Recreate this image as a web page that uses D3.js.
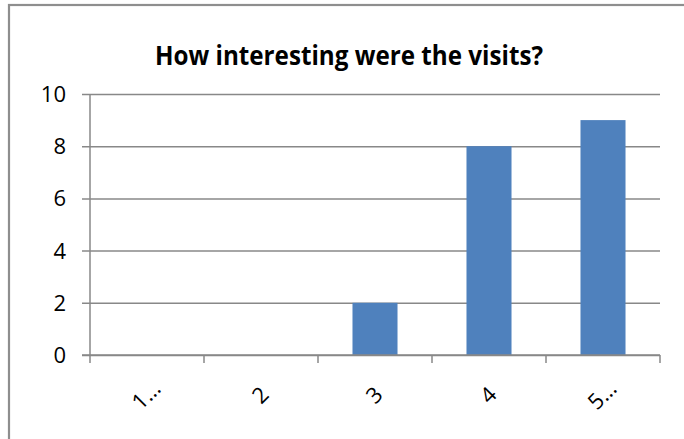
<!DOCTYPE html>
<html>
<head>
<meta charset="utf-8">
<script src="https://cdn.jsdelivr.net/npm/d3@7"></script>
<style>
  html, body { margin: 0; padding: 0; background: #fff; }
  svg { display: block; }
</style>
</head>
<body>
<svg id="chart" width="684" height="439"></svg>
<script>
// Survey answers: how many respondents picked each rating
const categories = ["1…", "2", "3", "4", "5…"];
const counts = [0, 0, 2, 8, 9];
const yTicks = [0, 2, 4, 6, 8, 10];
const chartTitle = "How interesting were the visits?";

const svg = d3.select("#chart");
const W = 684, H = 439;
const font = "'Open Sans', 'DejaVu Sans', sans-serif";
const gridColor = "#888888";
const barColor = "#4F81BD";

// Chart frame (only the top and left edges fall inside the view)
svg.append("rect")
  .attr("x", 9).attr("y", 5)
  .attr("width", W + 20).attr("height", H + 20)
  .attr("fill", "#fff")
  .attr("stroke", "#8e8e8e")
  .attr("stroke-width", 2.2);

const plot = { left: 90, right: 660, top: 94, bottom: 355 };

const x = d3.scaleBand()
  .domain(categories)
  .range([plot.left, plot.right])
  .paddingInner(0.605)
  .paddingOuter(0.3025);

const y = d3.scaleLinear()
  .domain([0, 10])
  .range([plot.bottom, plot.top]);

// Horizontal gridlines with short tick stubs to the left of the axis
const yAxis = d3.axisLeft(y)
  .tickValues(yTicks)
  .tickSize(-(plot.right - plot.left))
  .tickFormat("");
const gy = svg.append("g")
  .attr("transform", `translate(${plot.left},0)`)
  .call(yAxis);
gy.select(".domain").remove();
gy.selectAll(".tick line")
  .attr("x1", -8)
  .attr("stroke", gridColor)
  .attr("stroke-width", 1.5);

// Y tick labels
svg.append("g").selectAll("text")
  .data(yTicks)
  .join("text")
  .attr("x", 66)
  .attr("y", d => y(d))
  .attr("dy", "0.36em")
  .attr("text-anchor", "end")
  .attr("font-family", font)
  .attr("font-size", 22)
  .attr("fill", "#000")
  .text(d => d);

// Bars
svg.append("g").selectAll("rect")
  .data(categories.map((c, i) => ({ c, v: counts[i] })))
  .join("rect")
  .attr("x", d => x(d.c))
  .attr("y", d => y(d.v))
  .attr("width", x.bandwidth())
  .attr("height", d => y(0) - y(d.v))
  .attr("fill", barColor);

// Vertical axis line
svg.append("line")
  .attr("x1", plot.left).attr("x2", plot.left)
  .attr("y1", plot.top).attr("y2", plot.bottom)
  .attr("stroke", gridColor).attr("stroke-width", 1.5);

// Category axis with ticks on the category boundaries
const boundaries = d3.range(categories.length + 1).map(i => plot.left + i * (plot.right - plot.left) / categories.length);
svg.append("line")
  .attr("x1", plot.left - 8).attr("x2", plot.right)
  .attr("y1", plot.bottom).attr("y2", plot.bottom)
  .attr("stroke", gridColor).attr("stroke-width", 1.5);
svg.append("g").selectAll("line")
  .data(boundaries)
  .join("line")
  .attr("x1", d => d).attr("x2", d => d)
  .attr("y1", plot.bottom).attr("y2", plot.bottom + 8)
  .attr("stroke", gridColor).attr("stroke-width", 1.5);

// Rotated category labels
svg.append("g").selectAll("text")
  .data(categories)
  .join("text")
  .attr("transform", d => `translate(${x(d) + x.bandwidth() / 2 - 1},395) rotate(-45)`)
  .attr("text-anchor", "middle")
  .attr("dy", "0.36em")
  .attr("font-family", font)
  .attr("font-size", 22)
  .attr("fill", "#000")
  .text(d => d);

// Title
const title = svg.append("text")
  .attr("x", 349)
  .attr("y", 65)
  .attr("text-anchor", "middle")
  .attr("font-family", font)
  .attr("font-weight", "bold")
  .attr("font-size", 26)
  .attr("fill", "#000")
  .text(chartTitle);
title.attr("textLength", 388).attr("lengthAdjust", "spacingAndGlyphs");
</script>
</body>
</html>
